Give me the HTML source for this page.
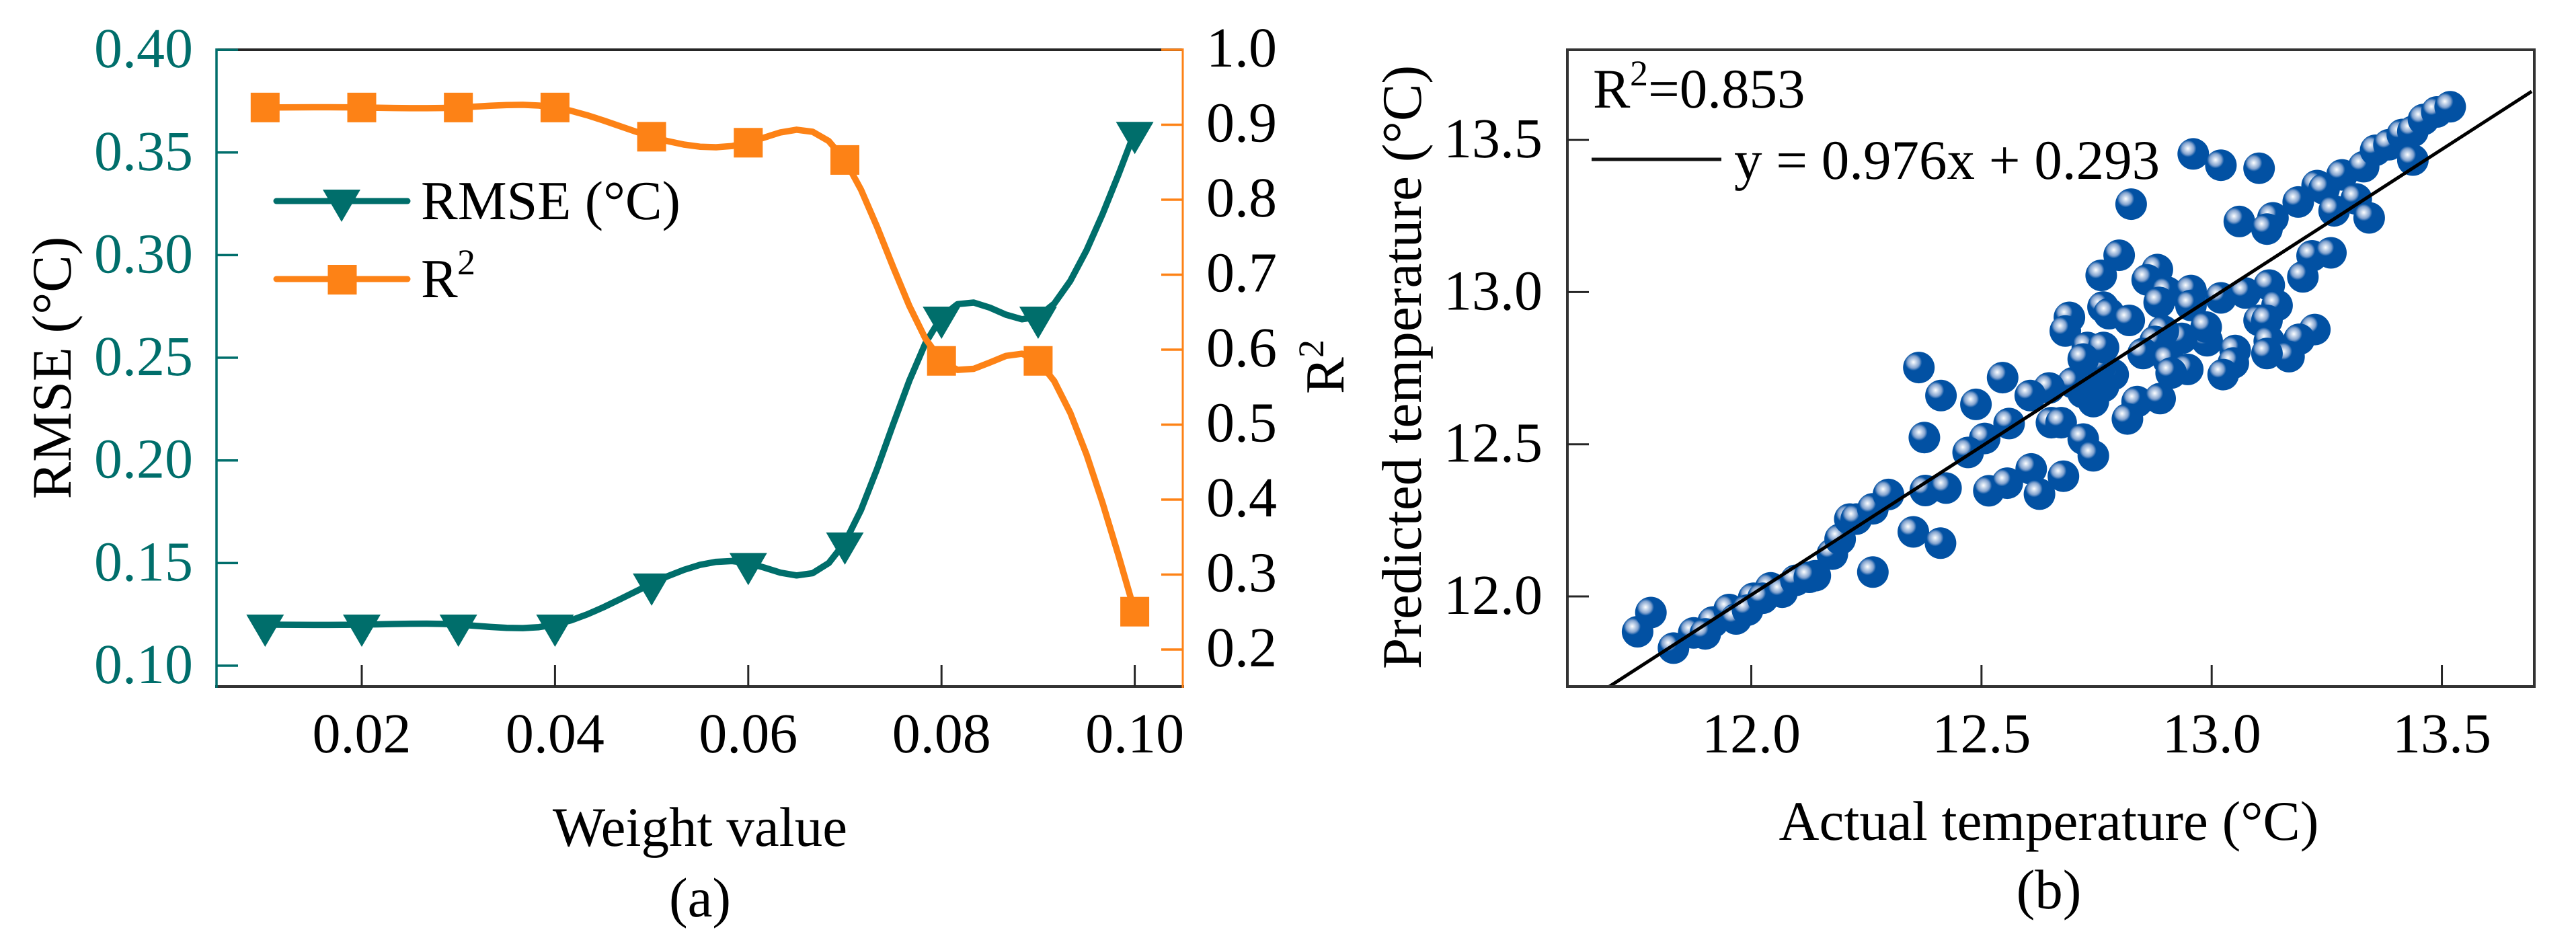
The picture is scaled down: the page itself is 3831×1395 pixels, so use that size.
<!DOCTYPE html>
<html lang="en">
<head>
<meta charset="utf-8">
<title>RMSE and R2 versus weight value, and predicted versus actual temperature</title>
<style>
html,body{margin:0;padding:0;background:#fff;}
#figure{display:block;width:3831px;height:1395px;background:#fff;}
text{font-family:"Liberation Serif",serif;font-size:84px;fill:#000;text-rendering:geometricPrecision;}
</style>
</head>
<body>
<svg id="figure" xmlns="http://www.w3.org/2000/svg" width="3831" height="1395" viewBox="0 0 3831 1395">
  <defs>
    <radialGradient id="ball" cx="0.33" cy="0.33" r="0.27">
      <stop offset="0" stop-color="#ffffff"/>
      <stop offset="0.3" stop-color="#c8d8ec"/>
      <stop offset="0.7" stop-color="#82a2ce"/>
      <stop offset="1" stop-color="#0251a3"/>
    </radialGradient>
  </defs>
  <g id="panel-a"></g>
  <g id="panel-b"></g>
</svg>
<script>
// ---- Panel (a) data ----
const weightValues = [0.01,0.02,0.03,0.04,0.05,0.06,0.07,0.08,0.09,0.10];
const rmseValues = [0.12,0.12,0.12,0.12,0.14,0.15,0.16,0.27,0.27,0.36];
const r2Values = [0.923,0.923,0.923,0.923,0.884,0.876,0.853,0.585,0.585,0.2505];
const xTicksA = [0.02,0.04,0.06,0.08,0.10];
const xTickLabelsA = ["0.02","0.04","0.06","0.08","0.10"];
const rmseTicks = [0.10,0.15,0.20,0.25,0.30,0.35,0.40];
const rmseTickLabels = ["0.10","0.15","0.20","0.25","0.30","0.35","0.40"];
const r2Ticks = [0.2,0.3,0.4,0.5,0.6,0.7,0.8,0.9,1.0];
const r2TickLabels = ["0.2","0.3","0.4","0.5","0.6","0.7","0.8","0.9","1.0"];

// ---- Panel (b) data ----
const actualTemps = [12.786,12.765,12.743,12.760,12.743,12.720,12.720,12.990,12.960,13.020,13.103,12.825,13.060,13.133,13.120,13.188,13.229,13.244,13.283,13.330,13.356,13.385,13.414,13.437,13.460,13.489,13.518,13.437,13.314,13.266,13.342,13.218,13.259,13.198,12.799,12.760,12.882,12.860,12.903,12.955,12.955,12.886,13.020,13.073,13.125,13.142,12.764,12.777,12.821,12.691,12.682,13.103,13.120,12.988,12.935,12.895,12.877,12.851,13.125,13.224,13.190,13.168,13.120,13.051,13.047,13.025,12.906,12.948,12.912,12.730,12.765,12.721,12.699,12.838,12.888,12.817,12.546,12.647,12.606,12.652,12.673,12.721,12.743,12.560,12.488,12.507,12.471,12.608,12.678,12.516,12.556,12.626,11.753,11.782,11.831,11.875,11.917,11.900,11.952,12.005,11.967,11.992,12.042,12.025,12.067,12.097,12.139,12.126,12.176,12.193,12.214,12.228,12.264,12.298,12.264,12.352,12.411,12.378,12.423,12.364,12.412,12.376];
const predictedTemps = [12.729,12.690,12.640,12.760,12.700,12.670,12.720,12.840,13.454,13.417,13.407,13.289,13.232,13.244,13.207,13.296,13.350,13.339,13.385,13.412,13.466,13.484,13.518,13.528,13.567,13.592,13.609,13.434,13.306,13.267,13.244,13.119,13.129,13.050,13.121,13.055,13.074,13.040,13.000,13.005,12.956,12.966,12.981,12.997,13.023,12.956,12.951,12.929,12.907,12.917,12.872,12.907,12.907,12.885,12.848,12.872,12.838,12.798,12.838,12.877,12.845,12.788,12.798,12.808,12.767,12.729,12.776,12.746,12.734,12.818,12.818,12.780,12.702,12.640,12.650,12.583,12.719,12.685,12.660,12.571,12.571,12.517,12.462,12.568,12.631,12.519,12.473,12.419,12.395,12.347,12.372,12.336,11.884,11.947,11.830,11.880,11.916,11.877,11.957,11.994,11.926,11.955,12.028,11.994,12.014,12.053,12.068,12.063,12.139,12.188,12.254,12.254,12.288,12.335,12.080,12.212,12.175,12.348,12.356,12.752,12.660,12.522];
const fitSlope = 0.976;
const fitIntercept = 0.293;
const xTicksB = [12.0,12.5,13.0,13.5];
const xTickLabelsB = ["12.0","12.5","13.0","13.5"];
const yTicksB = [12.0,12.5,13.0,13.5];
const yTickLabelsB = ["12.0","12.5","13.0","13.5"];

// ---- Axis functions ----
function xA(v){ return 538 + (v - 0.02) * 14370; }
function yRmse(v){ return 990 - (v - 0.10) * 3053; }
function yR2(v){ return 74 + (1 - v) * 1115; }
function xB(v){ return 2604.5 + (v - 12) * 684.7; }
function yB(v){ return 887 - (v - 12) * 452.6; }

const SVGNS = "http://www.w3.org/2000/svg";
const panelA = document.getElementById("panel-a");
const panelB = document.getElementById("panel-b");
const TEAL = "#006e6b";
const ORANGE = "#fd8216";
const DARK = "#262626";

function mk(parent, tag, attrs, txt){
  const el = document.createElementNS(SVGNS, tag);
  for (const k in attrs) el.setAttribute(k, attrs[k]);
  if (txt !== undefined) el.textContent = txt;
  parent.appendChild(el);
  return el;
}
function line(parent, x1, y1, x2, y2, color, w){
  return mk(parent, "line", {x1:x1, y1:y1, x2:x2, y2:y2, stroke:color, "stroke-width":w});
}
// Natural cubic spline through the data points (as the plotting tool's smoothed line)
function splinePath(xs, ys){
  const n = xs.length;
  const a = new Array(n).fill(0), b = new Array(n).fill(1), c = new Array(n).fill(0), d = new Array(n).fill(0);
  for (let i = 1; i < n - 1; i++){
    const h0 = xs[i] - xs[i-1], h1 = xs[i+1] - xs[i];
    a[i] = h0; b[i] = 2 * (h0 + h1); c[i] = h1;
    d[i] = 6 * ((ys[i+1] - ys[i]) / h1 - (ys[i] - ys[i-1]) / h0);
  }
  for (let i = 1; i < n; i++){
    const m = a[i] / b[i-1];
    b[i] -= m * c[i-1];
    d[i] -= m * d[i-1];
  }
  const s = new Array(n).fill(0);
  s[n-1] = d[n-1] / b[n-1];
  for (let i = n - 2; i >= 0; i--) s[i] = (d[i] - c[i] * s[i+1]) / b[i];
  let p = "M" + xs[0].toFixed(1) + " " + ys[0].toFixed(1);
  for (let i = 0; i < n - 1; i++){
    const h = xs[i+1] - xs[i];
    for (let k = 1; k <= 6; k++){
      const t = k / 6, u = 1 - t;
      const y = u * ys[i] + t * ys[i+1] + ((u*u*u - u) * s[i] + (t*t*t - t) * s[i+1]) * h * h / 6;
      p += "L" + (xs[i] + t * h).toFixed(1) + " " + y.toFixed(1);
    }
  }
  return p;
}

// ======== Panel (a) ========
const plotA = {l:322, r:1759, t:74, b:1021};

let el = line(panelA, plotA.l, plotA.t, plotA.r, plotA.t, DARK, 4);


el = line(panelA, plotA.l - 2, plotA.b, plotA.r + 2, plotA.b, "#333333", 4);


el = line(panelA, plotA.l, plotA.t - 2, plotA.l, plotA.b + 2, TEAL, 3.5);


el = line(panelA, plotA.r, plotA.t - 2, plotA.r, plotA.b + 2, ORANGE, 3);



xTicksA.forEach(function(v, i){
  const x = xA(v);
  const t = line(panelA, x, plotA.b, x, plotA.b - 32, DARK, 3);
  
  
  const l = mk(panelA, "text", {x:x, y:1119, "text-anchor":"middle"}, xTickLabelsA[i]);
  
  
});
rmseTicks.forEach(function(v, i){
  const y = yRmse(v);
  const t = line(panelA, plotA.l, y, plotA.l + 32, y, TEAL, 3.5);
  
  
  const l = mk(panelA, "text", {x:287, y:y + 26, "text-anchor":"end", style:"fill:" + TEAL}, rmseTickLabels[i]);
  
  
});
r2Ticks.forEach(function(v, i){
  const y = yR2(v);
  const t = line(panelA, plotA.r, y, plotA.r - 32, y, ORANGE, 3.5);
  
  
  const l = mk(panelA, "text", {x:1794, y:y + 25}, r2TickLabels[i]);
  
  
});

const xsA = weightValues.map(xA);
const rmseCurve = mk(panelA, "path", {d:splinePath(xsA, rmseValues.map(yRmse)), fill:"none", stroke:TEAL, "stroke-width":9.5, "stroke-linejoin":"round"});



function triangle(parent, cx, cy){
  return mk(parent, "polygon", {points:(cx-28)+","+(cy-15)+" "+(cx+28)+","+(cy-15)+" "+cx+","+(cy+33), fill:TEAL});
}
function square(parent, cx, cy){
  return mk(parent, "rect", {x:cx-21.5, y:cy-22, width:43, height:44, fill:ORANGE});
}
weightValues.forEach(function(v, i){
  const m = triangle(panelA, xA(v), yRmse(rmseValues[i]));
  
  
});
const r2Curve = mk(panelA, "path", {d:splinePath(xsA, r2Values.map(yR2)), fill:"none", stroke:ORANGE, "stroke-width":9.5, "stroke-linejoin":"round"});


weightValues.forEach(function(v, i){
  const m = square(panelA, xA(v), yR2(r2Values[i]));
  
  
});

// legend (a)
el = line(panelA, 411, 299, 606, 299, TEAL, 9);
el.setAttribute('stroke-linecap', 'round');


el = triangle(panelA, 508, 297);


el = mk(panelA, "text", {x:626, y:326, style:"font-size:82px"}, "RMSE (°C)");


el = line(panelA, 411, 415, 606, 415, ORANGE, 9);
el.setAttribute('stroke-linecap', 'round');


el = square(panelA, 509, 416);


el = mk(panelA, "text", {x:626, y:442, style:"font-size:82px"}, "R");


el = mk(panelA, "text", {x:680, y:408, style:"font-size:54px"}, "2");



// axis titles (a)
el = mk(panelA, "text", {transform:"translate(105,547) rotate(-90)", "text-anchor":"middle", style:"font-size:83px"}, "RMSE (°C)");


el = mk(panelA, "text", {transform:"translate(1998,586) rotate(-90)", style:"font-size:82px"}, "R");


el = mk(panelA, "text", {transform:"translate(1968,532) rotate(-90)", style:"font-size:54px"}, "2");


el = mk(panelA, "text", {x:1041, y:1258, "text-anchor":"middle", style:"font-size:83px"}, "Weight value");


el = mk(panelA, "text", {x:1041, y:1363, "text-anchor":"middle", style:"font-size:83px"}, "(a)");



// ======== Panel (b) ========
const plotB = {l:2331, r:3769, t:74, b:1021};

actualTemps.forEach(function(v, i){
  const c = mk(panelB, "circle", {cx:xB(v).toFixed(1), cy:yB(predictedTemps[i]).toFixed(1), r:23.5, fill:"url(#ball)"});
  
  
});

function fitY(x){ return fitSlope * x + fitIntercept; }
const fitStartX = (11.704 - fitIntercept) / fitSlope;
const fitEndX = 13.695;
el = line(panelB, xB(fitStartX), yB(fitY(fitStartX)), xB(fitEndX), yB(fitY(fitEndX)), "#000000", 5);



el = mk(panelB, "rect", {x:plotB.l, y:plotB.t, width:plotB.r - plotB.l, height:plotB.b - plotB.t, fill:"none", stroke:"#333333", "stroke-width":4});



xTicksB.forEach(function(v, i){
  const x = xB(v);
  const t = line(panelB, x, plotB.b, x, plotB.b - 32, DARK, 3);
  
  
  const l = mk(panelB, "text", {x:x, y:1119, "text-anchor":"middle"}, xTickLabelsB[i]);
  
  
});
yTicksB.forEach(function(v, i){
  const y = yB(v);
  const t = line(panelB, plotB.l, y, plotB.l + 32, y, DARK, 3);
  
  
  const l = mk(panelB, "text", {x:2294, y:y + 26, "text-anchor":"end"}, yTickLabelsB[i]);
  
  
});

el = mk(panelB, "text", {x:2369, y:160, style:"font-size:83px"}, "R");


el = mk(panelB, "text", {x:2424, y:127, style:"font-size:54px"}, "2");


el = mk(panelB, "text", {x:2451, y:160, style:"font-size:83px"}, "=0.853");


el = line(panelB, 2367, 237, 2560, 237, "#111111", 5);


el = mk(panelB, "text", {x:2579, y:266, style:"font-size:83px"}, "y = 0.976x + 0.293");



el = mk(panelB, "text", {transform:"translate(2113,546) rotate(-90)", "text-anchor":"middle", style:"font-size:83.3px"}, "Predicted temperature (°C)");


el = mk(panelB, "text", {x:3047, y:1249, "text-anchor":"middle", style:"font-size:83px"}, "Actual temperature (°C)");


el = mk(panelB, "text", {x:3047, y:1351, "text-anchor":"middle", style:"font-size:83px"}, "(b)");


</script>
</body>
</html>
